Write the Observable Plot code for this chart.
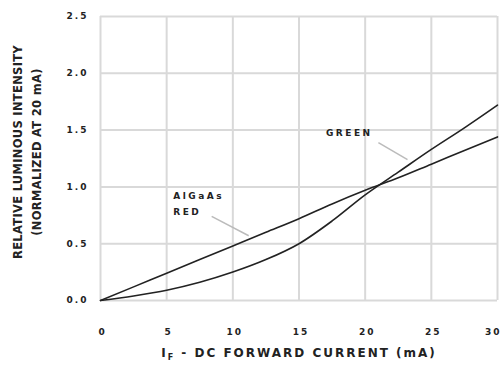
<!DOCTYPE html>
<html><head><meta charset="utf-8">
<script src="https://cdn.jsdelivr.net/npm/d3@7"></script>
<script src="https://cdn.jsdelivr.net/npm/@observablehq/plot@0.6"></script>
<style>body{margin:0;background:#fff}</style>
</head><body><div id="chart"></div>
<script>
const current = [0, 2.5, 5, 7.5, 10, 12.5, 15, 17.5, 20, 22.5, 25, 27.5, 30];
const redValues = [0, 0.12, 0.24, 0.36, 0.48, 0.6, 0.72, 0.85, 0.97, 1.08, 1.2, 1.32, 1.44];
const greenValues = [0, 0.04, 0.09, 0.16, 0.25, 0.36, 0.5, 0.7, 0.93, 1.13, 1.33, 1.52, 1.72];
const xTicks = [0, 5, 10, 15, 20, 25, 30];
const yTicks = [0, 0.5, 1.0, 1.5, 2.0, 2.5];
const seriesNames = ["AlGaAs RED", "GREEN"];

const rows = [];
current.forEach((c, i) => {
  rows.push({x: c, y: redValues[i], s: seriesNames[0]});
  rows.push({x: c, y: greenValues[i], s: seriesNames[1]});
});
const ink = "#222";
const font = "DejaVu Sans, Verdana, sans-serif";
const chart = Plot.plot({
  width: 502, height: 365,
  marginLeft: 100, marginRight: 5, marginTop: 16, marginBottom: 65,
  style: {fontFamily: font, background: "#fff"},
  x: {domain: [0, 30]},
  y: {domain: [0, 2.5]},
  marks: [
    Plot.gridX(xTicks, {stroke: "#d9d9d9", strokeOpacity: 1, strokeWidth: 2}),
    Plot.gridY(yTicks, {stroke: "#d9d9d9", strokeOpacity: 1, strokeWidth: 2}),
    Plot.axisX(xTicks, {tickSize: 0, tickPadding: 28, fontSize: 9, fontWeight: "bold", fill: ink, label: null, tickFormat: d => String(d), dx: 2}),
    Plot.axisY(yTicks, {tickSize: 0, tickPadding: 12, fontSize: 9, fontWeight: "bold", fill: ink, label: null, tickFormat: d => d.toFixed(1)}),
    Plot.line(rows, {x: "x", y: "y", z: "s", stroke: "#222", strokeWidth: 1.6, curve: "monotone-x"}),
    Plot.text(["GREEN"], {x: [18.8], y: [1.47], text: d => d, fontSize: 9, fontWeight: "bold", fill: ink, textAnchor: "middle"}),
    Plot.link([0], {x1: [21.0], y1: [1.39], x2: [23.2], y2: [1.24], stroke: "#bbb", strokeWidth: 1.5}),
    Plot.text(["AlGaAs"], {x: [5.5], y: [0.92], text: d => d, fontSize: 9, fontWeight: "bold", fill: ink, textAnchor: "start"}),
    Plot.text(["RED"], {x: [5.5], y: [0.78], text: d => d, fontSize: 9, fontWeight: "bold", fill: ink, textAnchor: "start"}),
    Plot.link([0], {x1: [8.4], y1: [0.74], x2: [11.2], y2: [0.57], stroke: "#bbb", strokeWidth: 1.5})
  ]
});
const svg = d3.select(chart);
// widen the letter spacing of the small bold labels to match the reference
svg.selectAll("g[aria-label='text'] text").attr("letter-spacing", 2.5);
svg.selectAll("g[aria-label='x-axis tick label'] text, g[aria-label='y-axis tick label'] text").attr("letter-spacing", 2);
const xl = svg.selectAll("g[aria-label='x-axis tick label'] text").nodes();
if (xl.length) d3.select(xl[xl.length - 1]).attr("text-anchor", "end").attr("dx", 2);
const xt = svg.append("text").attr("x", 299).attr("y", 357).attr("text-anchor", "middle")
  .attr("font-size", 12).attr("font-weight", "bold").attr("fill", ink).attr("letter-spacing", 2)
  .attr("font-family", font);
xt.append("tspan").text("I");
xt.append("tspan").attr("font-size", 8).attr("dy", 3).text("F");
xt.append("tspan").attr("dy", -3).text(" - DC FORWARD CURRENT (mA)");
const yt = svg.append("g").attr("transform", "translate(28,152) rotate(-90)")
  .attr("font-size", 11.5).attr("font-weight", "bold").attr("fill", ink)
  .attr("font-family", font).attr("text-anchor", "middle").attr("letter-spacing", 0.3);
yt.append("text").attr("y", -6).text("RELATIVE LUMINOUS INTENSITY");
yt.append("text").attr("y", 13).text("(NORMALIZED AT 20 mA)");
document.getElementById("chart").appendChild(chart);
</script></body></html>
